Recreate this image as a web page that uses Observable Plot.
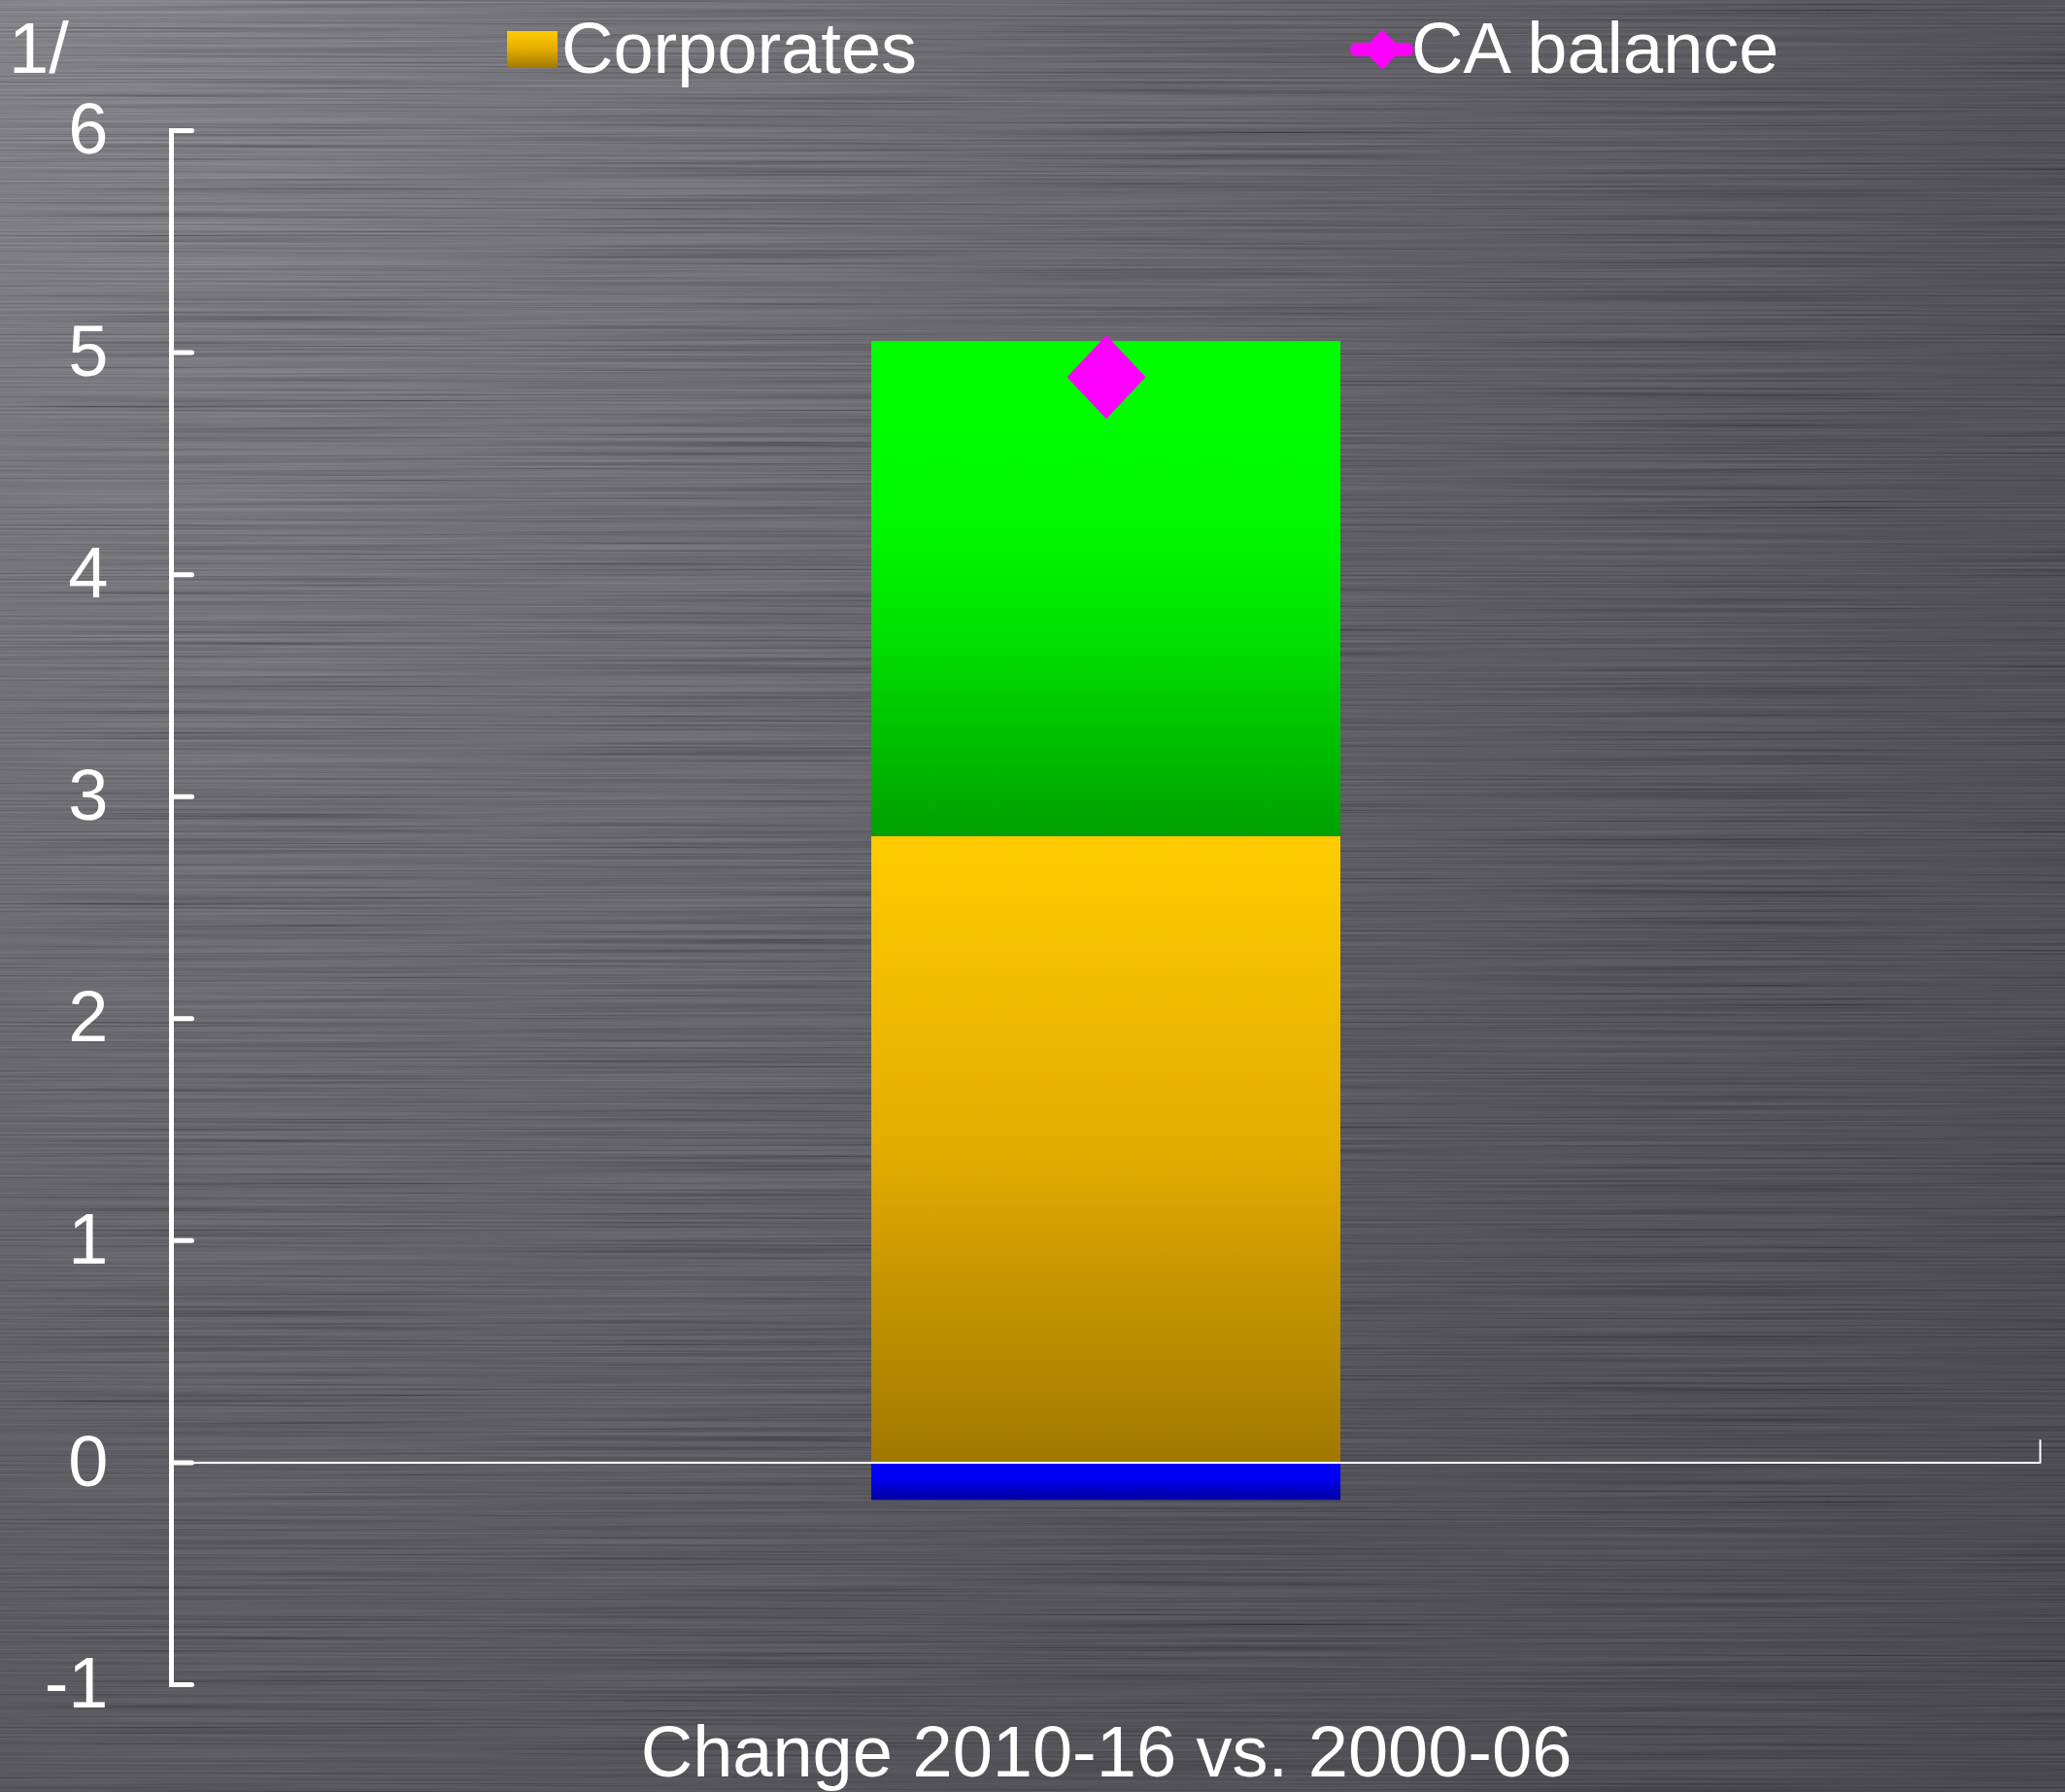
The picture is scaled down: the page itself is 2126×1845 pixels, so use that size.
<!DOCTYPE html>
<html><head><meta charset="utf-8">
<script src="https://cdn.jsdelivr.net/npm/d3@7"></script>
<script src="https://cdn.jsdelivr.net/npm/@observablehq/plot@0.6"></script>
<style>
html,body{margin:0;padding:0;}
body{width:2126px;height:1845px;overflow:hidden;}
#wrap{position:relative;width:2126px;height:1845px;
  background:radial-gradient(circle 2900px at 0 0,#727176 0%,#5a5a5f 38%,#48484d 70%,#3e3e43 100%);
  font-family:"Liberation Sans",Arial,sans-serif;}
#tex{position:absolute;left:0;top:0;mix-blend-mode:overlay;opacity:0.32;}
#legend{position:absolute;left:0;top:0;width:2126px;height:100px;}
#chart{position:absolute;left:0;top:100px;}
</style></head>
<body>
<div id="wrap">
<svg id="tex" width="2126" height="1845">
  <filter id="brush" x="0" y="0" width="100%" height="100%">
    <feTurbulence type="fractalNoise" baseFrequency="0.002 0.5" numOctaves="3" seed="3"/>
    <feColorMatrix type="matrix" values="1.3 0 0 0 -0.15  1.3 0 0 0 -0.15  1.3 0 0 0 -0.15  0 0 0 0 1"/>
  </filter>
  <rect width="2126" height="1845" filter="url(#brush)"/>
</svg>
<div id="legend"></div>
<div id="chart"></div>
</div>
<script>
// ---- data ----
const categories = ["Change 2010-16 vs. 2000-06"];
const seriesNames = ["Corporates", "Households", "General government"];
const sectorValues = [2.82, 2.23, -0.17];
const caLabel = "CA balance";
const caValues = [4.89];
const yTicks = [-1, 0, 1, 2, 3, 4, 5, 6];
const yNote = "1/";

// ---- styles ----
const FONT = "'Liberation Sans', Arial, sans-serif";
const gradients = {
  gCorp: [[0, "#FFCC00"], [0.5, "#E3AC00"], [1, "#A07800"]],
  gHH: [[0, "#00FF00"], [0.35, "#00FA00"], [0.6, "#00E000"], [1, "#00A000"]],
  gGov: [[0, "#0000FF"], [0.4, "#0000F5"], [1, "#0000A0"]]
};
const gradIds = ["gCorp", "gHH", "gGov"];

function addGradients(defs, ids, prefix) {
  ids.forEach(id => {
    const g = defs.append("linearGradient").attr("id", prefix + id)
      .attr("x1", 0).attr("y1", 0).attr("x2", 0).attr("y2", 1);
    gradients[id].forEach(([o, c]) => g.append("stop").attr("offset", o).attr("stop-color", c));
  });
}

const stacked = seriesNames.map((s, i) => ({category: categories[0], series: s, value: sectorValues[i]}));
const caData = caValues.map((v, i) => ({category: categories[i], value: v}));

const tickShape = {draw(ctx, l) { ctx.moveTo(0, 0); ctx.lineTo(0, -l); }};
const diamond = {draw(ctx, size) {
  const r = Math.sqrt(size / Math.PI);
  ctx.moveTo(0, -r * 1.06); ctx.lineTo(r, 0); ctx.lineTo(0, r * 1.06); ctx.lineTo(-r, 0); ctx.closePath();
}};

const defsMark = () => {
  const d = d3.create("svg:defs");
  addGradients(d, gradIds, "");
  return d.node();
};

const chart = Plot.plot({
  width: 2126, height: 1745,
  marginTop: 34, marginBottom: 111, marginLeft: 176, marginRight: 26,
  style: {background: "transparent", color: "white", fontFamily: FONT, fontSize: "74px", overflow: "visible"},
  x: {domain: categories, paddingInner: 0, paddingOuter: 1.4917, axis: null},
  y: {domain: [-1, 6], axis: null},
  color: {domain: seriesNames, range: gradIds.map(id => `url(#${id})`)},
  marks: [
    defsMark,
    Plot.barY(stacked, {x: "category", y: "value", fill: "series"}),
    Plot.ruleY([0], {stroke: "white", strokeWidth: 2}),
    Plot.frame({anchor: "left", stroke: "white", strokeWidth: 5}),
    Plot.vector(yTicks, {y: d => d, frameAnchor: "left", rotate: 90, length: 21, anchor: "start",
      shape: tickShape, stroke: "white", strokeWidth: 5}),
    Plot.vector([0], {y: d => d, frameAnchor: "right", rotate: 0, length: 23, anchor: "start",
      shape: tickShape, stroke: "white", strokeWidth: 2}),
    Plot.axisY(yTicks, {tickSize: 0, tickPadding: 65, fill: "white", fontSize: 74, label: null,
      tickFormat: d => String(d)}),
    Plot.axisX({tickSize: 0, tickPadding: 41.5, fill: "white", fontSize: 74, label: null}),
    Plot.dot(caData, {x: "category", y: "value", symbol: diamond, r: 40.5, fill: "#FF00FF"})
  ]
});
document.getElementById("chart").appendChild(chart);

// ---- legend ----
const leg = d3.select("#legend").append("svg").attr("width", 2126).attr("height", 100)
  .style("font-family", FONT).style("font-size", "74px");
addGradients(leg.append("defs"), ["gCorp"], "leg-");
leg.append("text").attr("x", 9).attr("y", 75).attr("fill", "white").text(yNote);
leg.append("rect").attr("x", 522).attr("y", 32).attr("width", 52).attr("height", 38).attr("fill", "url(#leg-gCorp)");
leg.append("text").attr("x", 578).attr("y", 75).attr("fill", "white").text(seriesNames[0]);
leg.append("line").attr("x1", 1397).attr("x2", 1448).attr("y1", 51).attr("y2", 51)
  .attr("stroke", "#FF00FF").attr("stroke-width", 14).attr("stroke-linecap", "round");
leg.append("path").attr("d", "M1423,30.5L1443,51L1423,71.5L1403,51Z").attr("fill", "#FF00FF");
leg.append("text").attr("x", 1453).attr("y", 75).attr("fill", "white").text(caLabel);
</script>
</body></html>
